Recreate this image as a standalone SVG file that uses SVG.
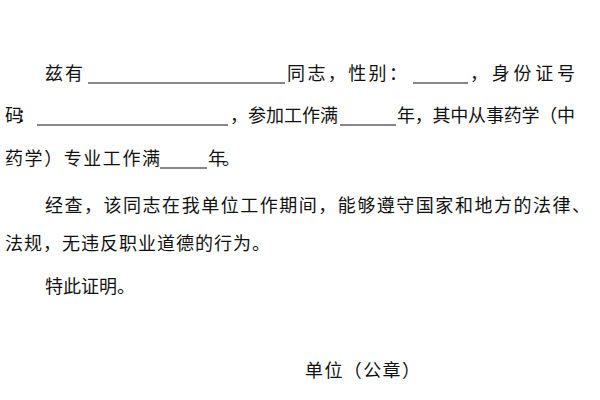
<svg xmlns="http://www.w3.org/2000/svg" width="600" height="400" viewBox="0 0 600 400">
<style>text{font-family:"Noto Sans CJK SC",sans-serif;font-size:18px;fill:#111}line{stroke:#111;stroke-width:1.2}</style>
<rect width="600" height="400" fill="#fff"/>
<text x="45" y="80" textLength="38">兹有</text>
<line x1="88" y1="83" x2="285" y2="83"/>
<text x="287" y="80" textLength="120">同志，性别：</text>
<line x1="413" y1="83" x2="468" y2="83"/>
<text x="470" y="80" textLength="105">，身份证号</text>
<text x="5" y="122" textLength="30">码：</text>
<line x1="37" y1="125" x2="228" y2="125"/>
<text x="230" y="122" textLength="108">，参加工作满</text>
<line x1="340" y1="125" x2="396" y2="125"/>
<text x="397" y="122" textLength="178">年，其中从事药学（中</text>
<text x="5" y="165" textLength="155">药学）专业工作满</text>
<line x1="160" y1="168" x2="207" y2="168"/>
<text x="208" y="165" textLength="32">年。</text>
<text x="45" y="212" textLength="545">经查，该同志在我单位工作期间，能够遵守国家和地方的法律、</text>
<text x="5" y="250" textLength="265">法规，无违反职业道德的行为。</text>
<text x="45" y="293" textLength="90">特此证明。</text>
<text x="305" y="377" textLength="115">单位（公章）</text>
</svg>
